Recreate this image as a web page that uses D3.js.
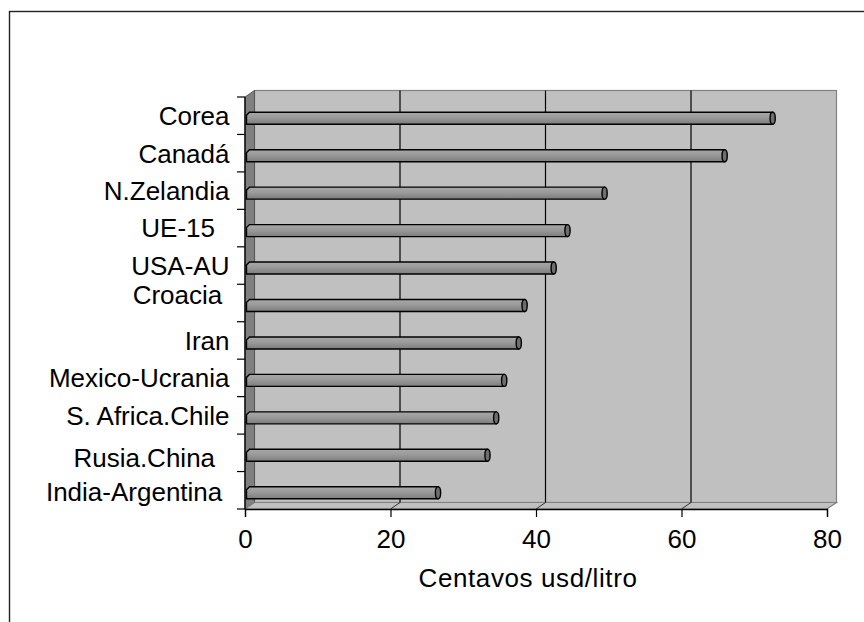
<!DOCTYPE html>
<html lang="es">
<head>
<meta charset="UTF-8">
<title>Centavos usd/litro</title>
<script src="https://cdn.jsdelivr.net/npm/d3@7"></script>
<style>
  body { margin: 0; background: #fff; }
  svg text { font-family: "Liberation Sans", Arial, sans-serif; fill: #000; }
</style>
</head>
<body>
<div id="container"></div>
<script>
// data
const categories = ["Corea", "Canadá", "N.Zelandia", "UE-15", "USA-AU", "Croacia",
                    "Iran", "Mexico-Ucrania", "S. Africa.Chile", "Rusia.China", "India-Argentina"];
const labels = ["Corea", "Canadá", "N.Zelandia", "UE-15  ", "USA-AU", "Croacia ",
                "Iran", "Mexico-Ucrania", "S. Africa.Chile", "Rusia.China  ", "India-Argentina "];
const values = [72.6, 66.0, 49.5, 44.4, 42.5, 38.5, 37.7, 35.7, 34.6, 33.4, 26.6];
const xTicks = [0, 20, 40, 60, 80];
const xTitle = "Centavos usd/litro";

const width = 864, height = 622;
const DX = 9.5, DY = -6.5;   // depth of the 3d box
const fs = 26;
// small vertical nudges of some category labels (as in the original)
const labelShift = {"Croacia": -8, "Rusia.China": 5, "India-Argentina": 1.5};

const svg = d3.select("#container").append("svg")
    .attr("width", width).attr("height", height);

// outer chart border
svg.append("rect")
    .attr("x", 9.5).attr("y", 11.5)
    .attr("width", 900).attr("height", 700)
    .attr("fill", "#fff").attr("stroke", "#222").attr("stroke-width", 1.4);

const x = d3.scaleLinear().domain([0, 80]).range([245, 827]);
const y = d3.scaleBand().domain(categories).range([97, 509]);
const x0 = x(0), x1 = x(80), yTop = y.range()[0], yBot = y.range()[1];

// back wall
svg.append("rect")
    .attr("x", x0 + DX).attr("y", yTop + DY)
    .attr("width", x1 - x0).attr("height", yBot - yTop)
    .attr("fill", "#c0c0c0").attr("stroke", "#808080").attr("stroke-width", 1.2);

// left wall
svg.append("path")
    .attr("d", `M${x0},${yTop} L${x0 + DX},${yTop + DY} L${x0 + DX},${yBot + DY} L${x0},${yBot} Z`)
    .attr("fill", "#808080").attr("stroke", "#555").attr("stroke-width", 1);

// floor
svg.append("path")
    .attr("d", `M${x0},${yBot} L${x0 + DX},${yBot + DY} L${x1 + DX},${yBot + DY} L${x1},${yBot} Z`)
    .attr("fill", "#c0c0c0").attr("stroke", "#808080").attr("stroke-width", 1.2);

// gridlines on back wall and floor
const grid = xTicks.filter(t => t > 0 && t < 80);
svg.selectAll(".grid").data(grid).enter().append("line")
    .attr("x1", d => x(d) + DX).attr("x2", d => x(d) + DX)
    .attr("y1", yTop + DY).attr("y2", yBot + DY)
    .attr("stroke", "#000").attr("stroke-width", 1.2);
svg.selectAll(".gridFloor").data(grid).enter().append("line")
    .attr("x1", d => x(d)).attr("x2", d => x(d) + DX)
    .attr("y1", yBot).attr("y2", yBot + DY)
    .attr("stroke", "#333").attr("stroke-width", 1);

// bars (horizontal cylinders)
const grad = svg.append("defs").append("linearGradient")
    .attr("id", "barFill").attr("x1", 0).attr("y1", 0).attr("x2", 0).attr("y2", 1);
grad.append("stop").attr("offset", "0%").attr("stop-color", "#a8a8a8");
grad.append("stop").attr("offset", "45%").attr("stop-color", "#9a9a9a");
grad.append("stop").attr("offset", "100%").attr("stop-color", "#7c7c7c");

const barH = 12;
const bars = svg.selectAll(".bar").data(values).enter().append("g").attr("class", "bar");
bars.append("path")
    .attr("d", (d, i) => {
        const c = y(categories[i]) + y.bandwidth() / 2 + 2.5;
        const xs = x0 + 1.5, xe = x(d) + 2 - 2.5;
        return `M${xs},${c + barH / 2} L${xs},${c - barH / 2 + 3} L${xs + 3},${c - barH / 2}` +
               ` L${xe},${c - barH / 2} L${xe},${c + barH / 2} Z`;
    })
    .attr("fill", "url(#barFill)").attr("stroke", "#000").attr("stroke-width", 1.4);
bars.append("ellipse")
    .attr("cx", d => x(d) + 2 - 2.5)
    .attr("cy", (d, i) => y(categories[i]) + y.bandwidth() / 2 + 2.5)
    .attr("rx", 2.6).attr("ry", barH / 2)
    .attr("fill", "#6e6e6e").attr("stroke", "#000").attr("stroke-width", 1.4);

// value axis
const xAxis = svg.append("g")
    .attr("transform", `translate(0,${yBot})`)
    .call(d3.axisBottom(x).tickValues(xTicks).tickSize(8).tickPadding(13).tickFormat(d3.format("d")));
xAxis.select(".domain").attr("stroke", "#000").attr("stroke-width", 1.3);
xAxis.selectAll(".tick line").attr("stroke", "#000").attr("stroke-width", 1.2);
xAxis.selectAll(".tick text").attr("font-size", fs).attr("font-family", null);

// category axis
svg.append("line")
    .attr("x1", x0).attr("x2", x0).attr("y1", yTop).attr("y2", yBot)
    .attr("stroke", "#000").attr("stroke-width", 1.3);
const bounds = categories.map(c => y(c)).concat([yBot]);
svg.selectAll(".ytick").data(bounds).enter().append("line")
    .attr("x1", x0 - 8).attr("x2", x0)
    .attr("y1", d => d).attr("y2", d => d)
    .attr("stroke", "#000").attr("stroke-width", 1.2);

svg.selectAll(".ylabel").data(categories).enter().append("text")
    .attr("x", 229.5)
    .attr("y", d => y(d) + y.bandwidth() / 2 + (labelShift[d] || 0))
    .attr("dy", "0.36em")
    .attr("text-anchor", "end")
    .attr("font-size", fs)
    .style("white-space", "pre")
    .text((d, i) => labels[i]);

// axis title
svg.append("text")
    .attr("x", 528).attr("y", 587)
    .attr("text-anchor", "middle")
    .attr("font-size", fs)
    .attr("letter-spacing", 0.6)
    .text(xTitle);
</script>
</body>
</html>
